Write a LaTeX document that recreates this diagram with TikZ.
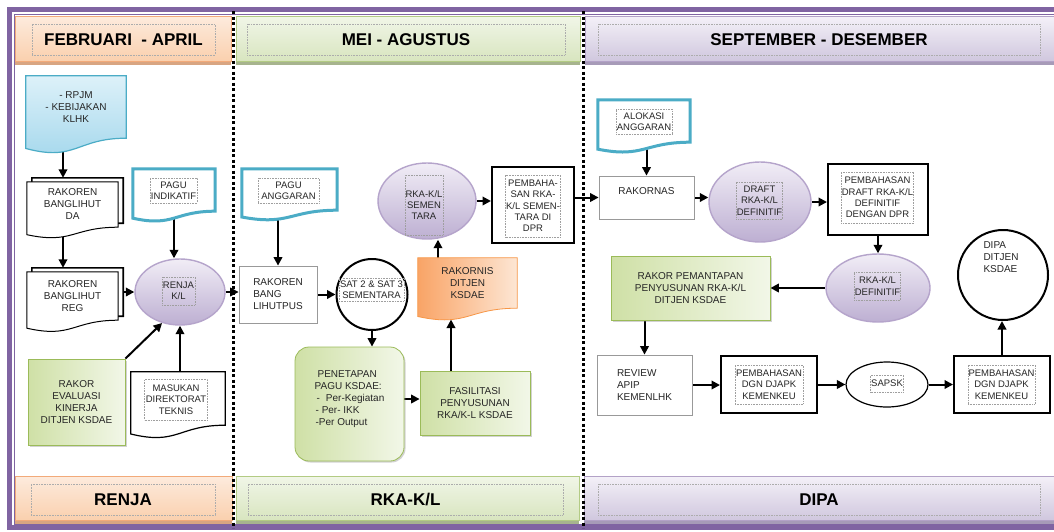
\documentclass[tikz,border=0pt]{standalone}
\usepackage{fontspec}
\setmainfont{Liberation Sans}
\usetikzlibrary{arrows.meta,calc,shapes.geometric,shadows}
\definecolor{frameP}{HTML}{8064A2}
\definecolor{tealB}{HTML}{4BACC6}
\definecolor{grL}{HTML}{CFE0A6}
\definecolor{grR}{HTML}{F2F7E8}
\definecolor{grB}{HTML}{9BBB59}
\definecolor{puT}{HTML}{F1EDF6}
\definecolor{puD}{HTML}{BDAFD2}
\definecolor{puB}{HTML}{B5A4CB}
\definecolor{orD}{HTML}{F9A466}
\definecolor{orL}{HTML}{FDE6D4}
\definecolor{orB}{HTML}{F79646}
\definecolor{bluL}{HTML}{DDF1F9}
\definecolor{bluD}{HTML}{A3D7EC}
\definecolor{obT}{HTML}{FDEBDD}
\definecolor{obD}{HTML}{FAD0AE}
\definecolor{obB}{HTML}{F2AA7A}
\definecolor{obS}{HTML}{D8A582}
\definecolor{gbT}{HTML}{F1F6E8}
\definecolor{gbD}{HTML}{D8E5BF}
\definecolor{gbB}{HTML}{B3CB84}
\definecolor{gbS}{HTML}{A7B48E}
\definecolor{pbT}{HTML}{F4F1F8}
\definecolor{pbD}{HTML}{D0C7DE}
\definecolor{pbB}{HTML}{B3A2C7}
\definecolor{pbS}{HTML}{A79BB8}
\pgfdeclarelayer{bg}
\pgfdeclarelayer{arw}
\pgfdeclarelayer{shp}
\pgfsetlayers{bg,arw,shp,main}
% document shape: #1 node, #2 options, #3 #4 offset
\newcommand\docwave[4]{%
  \path[#2] ($(#1.north west)+(#3,#4)$) -- ($(#1.north east)+(#3,#4)$) -- ($(#1.south east)+(#3,#4)$)
    .. controls ($(#1.south)+(#3,#4)$) and ($(#1.north)!1.381!(#1.south)+(#3,#4)$)
    .. ($(#1.north west)!1.1646!(#1.south west)+(#3,#4)$) -- cycle;}
\tikzset{
  arr/.style={-{Triangle[length=8.5pt,width=8.5pt]}, line width=2pt, black},
  txt/.style={font=\fontsize{10}{12}\selectfont, text=black!85, align=center, inner sep=0pt},
  tb/.style={draw=gray!75, densely dotted, line width=0.6pt, inner sep=0.5pt,
    font=\fontsize{9.5}{11.3}\selectfont, text=black!85, align=center},
  hb/.style={draw=gray!65, densely dotted, line width=0.6pt, inner sep=0pt,
    font=\bfseries\fontsize{17}{20}\selectfont, text=black},
  docn/.style={rectangle, txt},
  greenbox/.style={rectangle, draw=grB, line width=0.8pt, left color=grL, right color=grR,
    drop shadow={shadow xshift=1.5pt, shadow yshift=-1.5pt, opacity=0.35}, txt},
  thinbox/.style={rectangle, draw=gray!80, line width=0.8pt, fill=white, txt},
  thickbox/.style={rectangle, draw=black, line width=2pt, fill=white},
  purpell/.style={ellipse, draw=puB, line width=1.4pt, top color=puT, bottom color=puD, inner sep=0pt},
}
\begin{document}
\begin{tikzpicture}[x=1pt,y=-1pt]
\useasboundingbox (0,0) rectangle (1054,531);
\begin{pgfonlayer}{bg}
  \fill[white] (0,0) rectangle (1054,531);
  % header bands
  \fill[obS] (15,58) rectangle (231,65);
  \path[draw=obB, line width=0.8pt, top color=obT, bottom color=obD] (15,16) rectangle (231,61);
  \fill[gbS] (236,58) rectangle (580,65);
  \path[draw=gbB, line width=0.8pt, top color=gbT, bottom color=gbD] (236,16) rectangle (580,61);
  \fill[pbS] (585,58) rectangle (1066,65);
  \path[draw=pbB, line width=0.8pt, top color=pbT, bottom color=pbD] (585,16) rectangle (1066,61);
  % footer bands
  \fill[obS] (15,517) rectangle (232,524);
  \path[draw=obB, line width=0.8pt, top color=obT, bottom color=obD] (15,476) rectangle (232,520);
  \fill[gbS] (236,517) rectangle (579,524);
  \path[draw=gbB, line width=0.8pt, top color=gbT, bottom color=gbD] (236,476) rectangle (579,520);
  \fill[pbS] (584,517) rectangle (1066,524);
  \path[draw=pbB, line width=0.8pt, top color=pbT, bottom color=pbD] (584,476) rectangle (1066,520);
  % frame
  \draw[frameP, line width=4.5pt] (9.5,9.5) rectangle (1070,527.5);
  \draw[frameP, line width=1pt] (14,14) rectangle (1066,524.5);
  % separators
  \draw[line width=3pt, dash pattern=on 3pt off 2.5pt] (233,11) -- (233,528);
  \draw[line width=3pt, dash pattern=on 3pt off 2.5pt] (583,11) -- (583,528);
\end{pgfonlayer}

% header / footer labels
\node[hb, minimum width=183, minimum height=31] (h1) at (123.5,39.5) {FEBRUARI\ \ - APRIL};
\node[hb, minimum width=318, minimum height=31] (h2) at (406,39.5) {MEI - AGUSTUS};
\node[hb, minimum width=442, minimum height=31] (h3) at (819,39.5) {SEPTEMBER - DESEMBER};
\node[hb, minimum width=184, minimum height=31] (f1) at (123,499.5) {RENJA};
\node[hb, minimum width=315, minimum height=31] (f2) at (405.5,499.5) {RKA-K/L};
\node[hb, minimum width=442, minimum height=31] (f3) at (819,499.5) {DIPA};

% ---------- left column ----------
\node[docn, minimum width=100, minimum height=62] (rpjm) at (76,107) {- RPJM\\- KEBIJAKAN\\KLHK};
\node[docn, minimum width=91, minimum height=45] (rkda) at (72.5,204.5) {RAKOREN\\BANGLIHUT\\DA};
\node[docn, minimum width=91, minimum height=48] (rkreg) at (72.5,296) {RAKOREN\\BANGLIHUT\\REG};
\node[docn, minimum width=82, minimum height=42] (pagui) at (174,190) {};
\node[tb, minimum width=47, minimum height=25] (pagui-t) at (173.5,190.5) {PAGU\\INDIKATIF};
\node[purpell, minimum width=90, minimum height=66] (renja) at (180,292) {};
\node[tb, minimum width=33, minimum height=28] (renja-t) at (178.5,291) {RENJA\\K/L};
\node[greenbox, minimum width=97, minimum height=86] (rakorev) at (76.5,402) {RAKOR\\EVALUASI\\KINERJA\\DITJEN KSDAE};
\node[docn, minimum width=94, minimum height=53] (masukan) at (178,398.5) {};
\node[tb, minimum width=63, minimum height=41] (masukan-t) at (176,399.5) {MASUKAN\\DIREKTORAT\\TEKNIS};

% ---------- middle column ----------
\node[docn, minimum width=95, minimum height=41] (pagua) at (289.5,189.5) {};
\node[tb, minimum width=61, minimum height=25] (pagua-t) at (288.5,190.5) {PAGU\\ANGGARAN};
\node[thinbox, minimum width=78, minimum height=57, align=left] (rkbang) at (278,294.5) {RAKOREN\\BANG\\LIHUTPUS};
\node[circle, draw=black, line width=2pt, fill=white, minimum size=71, inner sep=0pt] (sat) at (372,294.5) {};
\node[tb, minimum width=65, minimum height=23] (sat-t) at (371.5,289.5) {SAT 2 \& SAT 3\\SEMENTARA};
\node[rectangle, rounded corners=14pt, draw=grB, line width=0.8pt, left color=grL, right color=grR,
      drop shadow={shadow xshift=1.5pt, shadow yshift=-1.5pt, opacity=0.35},
      txt, align=left, minimum width=109, minimum height=114] (penetapan) at (349.5,404)
  {\hspace{3pt}PENETAPAN\\PAGU KSDAE:\\\hspace{2pt}-\hspace{6pt}Per-Kegiatan\\\hspace{1pt}- Per- IKK\\\hspace{1pt}-Per Output\\\mbox{}};
\node[greenbox, minimum width=110, minimum height=64] (fasil) at (475,403) {FASILITASI\\PENYUSUNAN\\RKA/K-L KSDAE};
\node[docn, minimum width=99, minimum height=50] (rakornis) at (467.5,283) {RAKORNIS\\DITJEN\\KSDAE};
\coordinate (rakornis-b) at ($(rakornis.north)!1.225!(rakornis.south)$);
\node[purpell, minimum width=98, minimum height=76] (rkasem) at (427,201) {};
\node[tb, minimum width=38, minimum height=60] (rkasem-t) at (424,205) {RKA-K/L\\SEMEN\\TARA};
\node[thickbox, minimum width=82, minimum height=76] (pemdpr) at (533,205) {};
\node[tb, minimum width=54, minimum height=62] (pemdpr-t) at (533,206) {PEMBAHA-\\SAN RKA-\\K/L SEMEN-\\TARA DI\\DPR};

% ---------- right column ----------
\node[docn, minimum width=92, minimum height=42] (alokasi) at (644,121) {};
\node[tb, minimum width=56, minimum height=25] (alokasi-t) at (644,121.5) {ALOKASI\\ANGGARAN};
\node[thinbox, minimum width=95, minimum height=43, align=left] (rakornas) at (646.5,197.5) {RAKORNAS\\\mbox{}};
\node[purpell, minimum width=102, minimum height=80] (draft) at (760,202) {};
\node[tb, minimum width=45, minimum height=37] (draft-t) at (759.5,200.5) {DRAFT\\RKA-K/L\\DEFINITIF};
\node[thickbox, minimum width=100, minimum height=71] (pemdraft) at (878,199.5) {};
\node[tb, minimum width=69, minimum height=51] (pemdraft-t) at (877.5,197.5) {PEMBAHASAN\\DRAFT RKA-K/L\\DEFINITIF\\DENGAN DPR};
\node[purpell, minimum width=104, minimum height=68] (rkadef) at (878,288) {};
\node[tb, minimum width=45, minimum height=28] (rkadef-t) at (877.5,286) {RKA-K/L\\DEFINITIF};
\node[greenbox, minimum width=159, minimum height=64] (rakorpem) at (690.5,288) {RAKOR PEMANTAPAN\\PENYUSUNAN RKA-K/L\\DITJEN KSDAE};
\node[circle, draw=black, line width=2pt, fill=white, minimum size=90, inner sep=0pt] (dipa) at (1003,275) {};
\node[txt, align=left] (dipa-t) at (1001,257) {DIPA\\DITJEN\\KSDAE};
\node[thinbox, minimum width=95, minimum height=60, align=left] (review) at (644.5,385) {REVIEW\\APIP\\KEMENLHK};
\node[thickbox, minimum width=96, minimum height=57] (dgn1) at (769,384.5) {};
\node[tb, minimum width=68, minimum height=39] (dgn1-t) at (769,384.5) {PEMBAHASAN\\DGN DJAPK\\KEMENKEU};
\node[ellipse, draw=black, line width=1.2pt, fill=white, minimum width=82, minimum height=45, inner sep=0pt] (sapsk) at (887,384.5) {};
\node[tb, minimum width=30, minimum height=17] (sapsk-t) at (887,383.5) {SAPSK};
\node[thickbox, minimum width=96, minimum height=57] (dgn2) at (1002,384.5) {};
\node[tb, minimum width=67, minimum height=39] (dgn2-t) at (1001.5,384.5) {PEMBAHASAN\\DGN DJAPK\\KEMENKEU};

% ---------- document outlines ----------
\begin{pgfonlayer}{shp}
  \docwave{rpjm}{draw=tealB, line width=1.2pt, top color=bluL, bottom color=bluD}{0}{0}
  \docwave{rkda}{draw=black, line width=1.6pt, fill=white}{5}{-4}
  \docwave{rkda}{draw=black, line width=1pt, fill=white}{0}{0}
  \docwave{rkreg}{draw=black, line width=1.6pt, fill=white}{5}{-4}
  \docwave{rkreg}{draw=black, line width=1pt, fill=white}{0}{0}
  \docwave{pagui}{draw=tealB, line width=3pt, fill=white}{0}{0}
  \docwave{masukan}{draw=black, line width=1.2pt, fill=white}{0}{0}
  \docwave{pagua}{draw=tealB, line width=3pt, fill=white}{0}{0}
  \docwave{rakornis}{draw=orB, line width=0.8pt, left color=orD, right color=orL}{0}{0}
  \docwave{alokasi}{draw=tealB, line width=3pt, fill=white}{0}{0}
\end{pgfonlayer}

% ---------- connectors ----------
\begin{pgfonlayer}{arw}
  \draw[arr] ([xshift=-9.5pt]rkda.north |- rpjm.south) -- ([xshift=-9.5pt,yshift=4pt]rkda.north);
  \draw[arr] ([xshift=-9.5pt]rkda.south) -- ([xshift=-9.5pt,yshift=4pt]rkreg.north);
  \draw[arr] (rkreg.east |- renja.west) -- (renja.west);
  \draw[arr] (pagui.south) -- (pagui.south |- renja.north);
  \draw[arr] (rakorev.north east) -- (renja.240);
  \draw[arr] (renja.south |- masukan.north) -- (renja.south);
  \draw[arr] (renja.east) -- (renja.east -| rkbang.west);
  \draw[arr] (rkbang.north |- pagua.south) -- (rkbang.north);
  \draw[arr] (rkbang.east) -- (rkbang.east -| sat.west);
  \draw[arr] (sat.south) -- (sat.south |- penetapan.north);
  \draw[arr] ([yshift=5pt]penetapan.east) -- ([yshift=5pt]penetapan.east -| fasil.west);
  \draw[arr] ([xshift=-24pt]fasil.north) -- ([xshift=-24pt]fasil.north |- rakornis-b);
  \draw[arr] ([xshift=-29.5pt]rakornis.north) -- ([xshift=-29.5pt]rakornis.north |- rkasem.south);
  \draw[arr] (rkasem.east) -- (rkasem.east -| pemdpr.west);
  \draw[arr] (pemdpr.east |- rakornas.west) -- (rakornas.west);
  \draw[arr] (rakornas.north |- alokasi.south) -- (rakornas.north);
  \draw[arr] (rakornas.east) -- (rakornas.east -| draft.west);
  \draw[arr] (draft.east) -- (draft.east -| pemdraft.west);
  \draw[arr] (pemdraft.south) -- (pemdraft.south |- rkadef.north);
  \draw[arr] (rkadef.west) -- (rkadef.west -| rakorpem.east);
  \draw[arr] (review.north |- rakorpem.south) -- (review.north);
  \draw[arr] (review.east) -- (review.east -| dgn1.west);
  \draw[arr] (dgn1.east) -- (dgn1.east -| sapsk.west);
  \draw[arr] (sapsk.east) -- (sapsk.east -| dgn2.west);
  \draw[arr] (dgn2.north) -- (dgn2.north |- dipa.south);
\end{pgfonlayer}
\end{tikzpicture}
\end{document}
